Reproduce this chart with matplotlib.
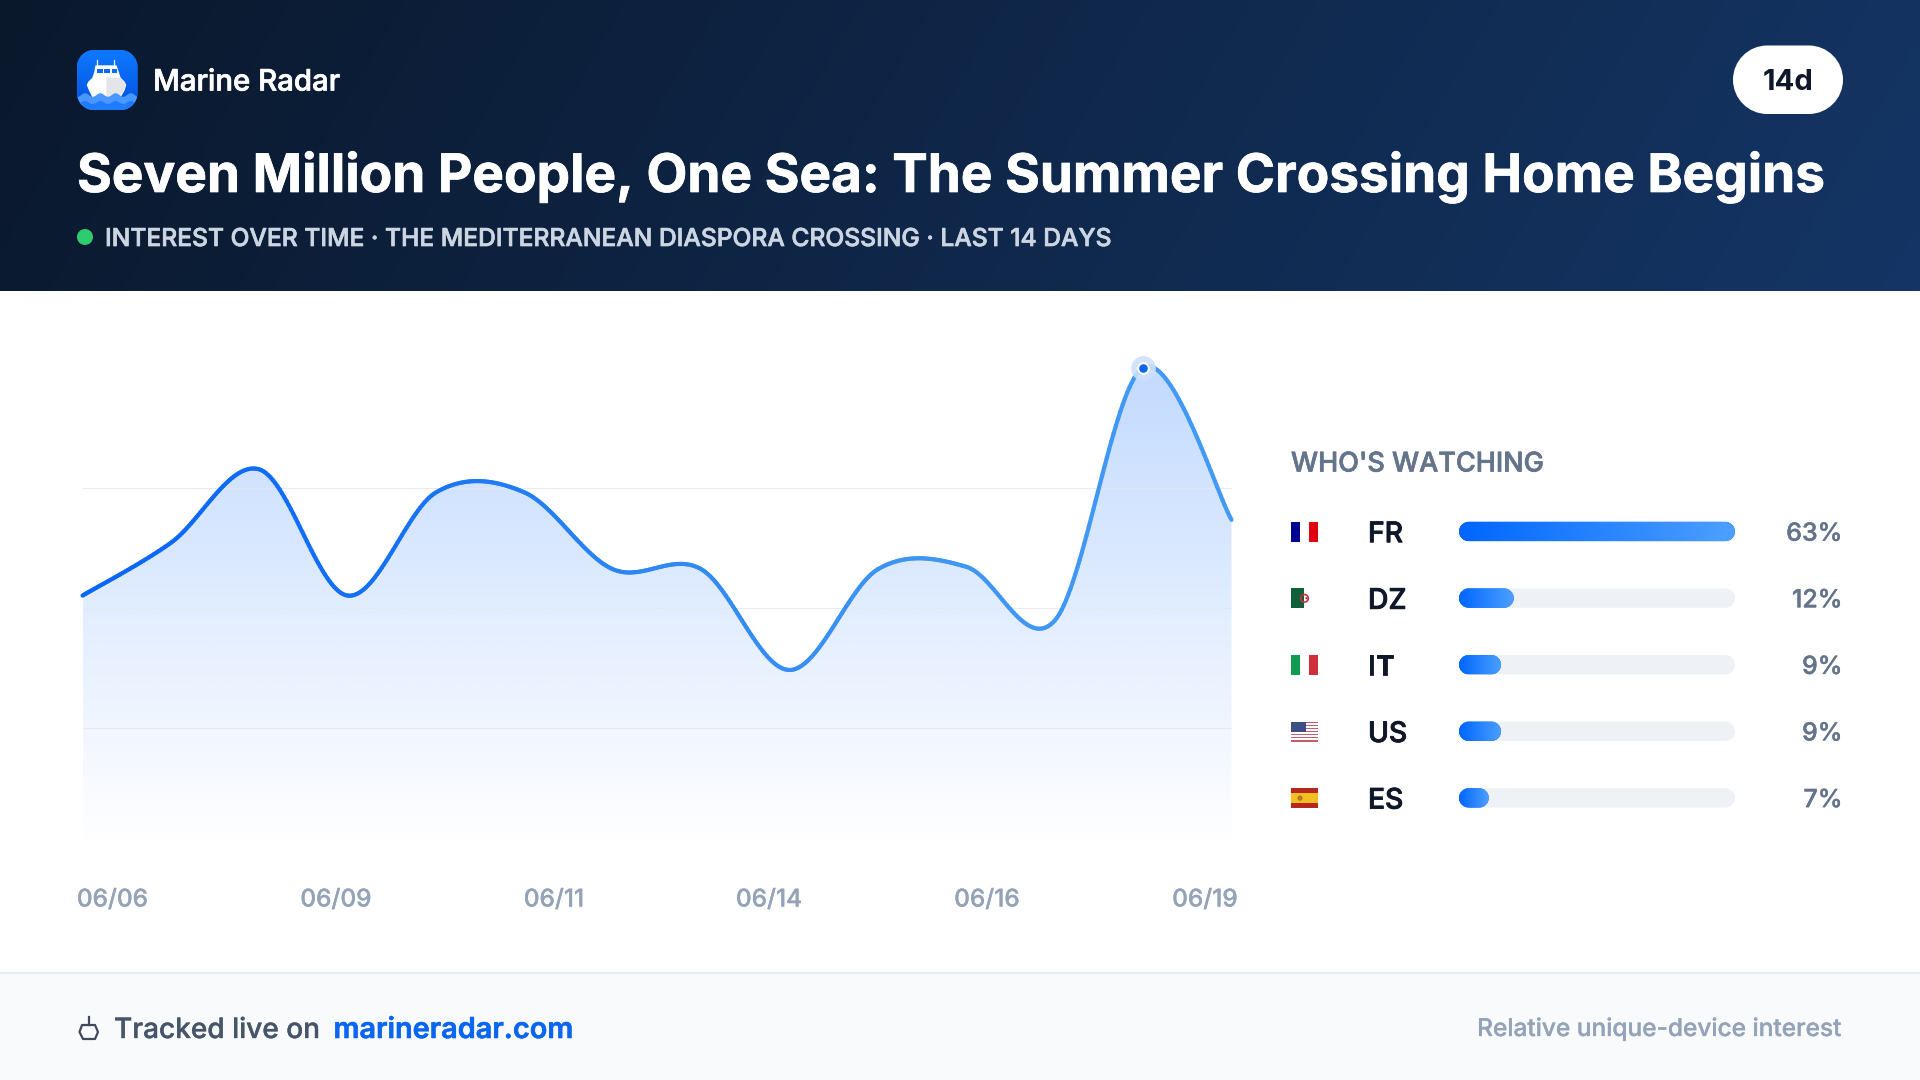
import numpy as np
import matplotlib
matplotlib.use('Agg')
import matplotlib.pyplot as plt
import matplotlib.patheffects as pe
from matplotlib.collections import LineCollection
from matplotlib.colors import LinearSegmentedColormap
from matplotlib.patches import Circle, PathPatch, Polygon, Rectangle
from matplotlib.path import Path

W, H = 1920, 1080
plt.rcParams['font.family'] = ['Inter', 'DejaVu Sans']

# chart data
values = [52.5, 63.5, 78.8, 52.5, 74, 74, 58, 58, 37, 58, 58.5, 47.3, 100, 68.3]
date_labels = ['06/06', '06/09', '06/11', '06/14', '06/16', '06/19']
date_centers = [112.5, 336, 554, 769, 987, 1205]
grid_values = [25, 50, 75]

# audience data (labels are rounded, bars are not quite)
countries = ['FR', 'DZ', 'IT', 'US', 'ES']
share_labels = [63, 12, 9, 9, 7]
shares = [63, 12.5, 9.6, 9.6, 6.8]

title = 'Seven Million People, One Sea: The Summer Crossing Home Begins'
subtitle = 'INTEREST OVER TIME · THE MEDITERRANEAN DIASPORA CROSSING · LAST 14 DAYS'

fig = plt.figure(figsize=(W / 100, H / 100), dpi=100, facecolor='white')
renderer = fig.canvas.get_renderer()


def px_axes(left, top, right, bottom):
    a = fig.add_axes([left / W, 1 - bottom / H, (right - left) / W, (bottom - top) / H])
    a.patch.set_alpha(0)
    a.axis('off')
    return a


def round_rect(x, y, w, h, rx, ry):
    # rounded box with proper circular corners (x, y is the low corner)
    k = 0.5523
    v = [(x + rx, y), (x + w - rx, y),
         (x + w - rx + k * rx, y), (x + w, y + ry - k * ry), (x + w, y + ry),
         (x + w, y + h - ry),
         (x + w, y + h - ry + k * ry), (x + w - rx + k * rx, y + h), (x + w - rx, y + h),
         (x + rx, y + h),
         (x + rx - k * rx, y + h), (x, y + h - ry + k * ry), (x, y + h - ry),
         (x, y + ry),
         (x, y + ry - k * ry), (x + rx - k * rx, y), (x + rx, y),
         (x + rx, y)]
    c = [Path.MOVETO, Path.LINETO] + [Path.CURVE4] * 3 + [Path.LINETO] + [Path.CURVE4] * 3 + [Path.LINETO] \
        + [Path.CURVE4] * 3 + [Path.LINETO] + [Path.CURVE4] * 3 + [Path.CLOSEPOLY]
    return Path(v, c)


# full figure layer, in pixels
bg = px_axes(0, 0, W, H)
bg.set_xlim(0, W)
bg.set_ylim(H, 0)


def put(s, x, y, width=None, size=20, fat=0.0, **kw):
    t = bg.text(x, y, s, fontsize=size, va='center_baseline', **kw)
    if width:
        size = size * width / t.get_window_extent(renderer).width
        t.set_fontsize(size)
    if fat:
        t.set_path_effects([pe.withStroke(linewidth=fat, foreground=kw.get('color', 'black'))])
    return size


# header gradient
gx, gy = np.meshgrid(np.linspace(0, 1, 400), np.linspace(0, 1, 60))
g = np.clip(gx * 0.92 + gy * 0.08, 0, 1)[..., None]
c0 = np.array([10, 24, 44]) / 255
c1 = np.array([20, 53, 101]) / 255
bg.imshow(c0 + (c1 - c0) * g, extent=(0, W, 291.5, 0), aspect='auto', zorder=1)

# footer
bg.add_patch(Rectangle((0, 973.5), W, 107, fc='#f8fafc', ec='none', zorder=1))
bg.add_patch(Rectangle((0, 972), W, 2, fc='#e9edf2', ec='none', zorder=1))

# logo
logo = PathPatch(round_rect(77, 50, 60.5, 60, 17, 17), fc='#0a6cff', ec='none', zorder=2)
bg.add_patch(logo)
lg = bg.imshow(np.linspace(0, 1, 50)[:, None], extent=(77, 137.5, 110, 50), aspect='auto', zorder=2,
               cmap=LinearSegmentedColormap.from_list('logo', ['#0f78ff', '#0052e0']))
lg.set_clip_path(logo)
bg.plot([97, 97], [60, 67], color='white', lw=0.9, zorder=3)
bg.plot([114, 114], [60, 67], color='white', lw=0.9, zorder=3)
bg.add_patch(Polygon([(96, 66), (116, 66), (118, 72), (120, 78), (124, 82), (125.5, 85), (124, 90), (120, 97),
                      (93, 97), (89.5, 90), (87.5, 85), (89, 82), (93, 78), (95, 72)],
                     closed=True, fc='white', ec='white', lw=1, joinstyle='round', zorder=3))
bg.add_patch(Polygon([(106.5, 77), (120, 78), (124, 82), (125.5, 85), (124, 90), (120, 97), (106.5, 97)],
                     closed=True, fc='#e3e5e9', ec='none', zorder=3))
bg.add_patch(Rectangle((97, 69), 5.5, 4, fc='#0a6cff', ec='none', zorder=4))
bg.add_patch(Rectangle((104, 69), 6, 4, fc='#0a6cff', ec='none', zorder=4))
bg.add_patch(Rectangle((111.5, 69), 5.5, 4, fc='#0a6cff', ec='none', zorder=4))
wave_x = np.linspace(77, 138, 80)
wave = bg.fill_between(wave_x, 94.5 + 1.8 * np.cos((wave_x - 77) / 61 * 2 * np.pi * 4), 110, color='#4a97ff', lw=0, zorder=4)
wave.set_clip_path(logo)
wave2 = bg.fill_between(wave_x, 102 + 1.5 * np.cos((wave_x - 77) / 61 * 2 * np.pi * 4), 110, color='#1f7bff', lw=0, zorder=5)
wave2.set_clip_path(logo)

put('Marine Radar', 153, 80, width=187, fat=0.5, color='white', weight='medium', zorder=5)
put(title, 77, 172, width=1751, fat=0.5, color='white', weight='bold', zorder=5)
bg.add_patch(Circle((85, 237), 8, fc='#2ecc71', ec='none', zorder=5))
put(subtitle, 105, 237, width=1007, fat=0.5, color='#ccd5e2', weight='medium', zorder=5)

# period pill
bg.add_patch(PathPatch(round_rect(1733, 45.5, 110, 68.5, 34.25, 34.25), fc='white', ec='none', zorder=5))
put('14d', 1788, 80, width=51, color='#0f172a', weight='bold', ha='center', zorder=6)

# date labels sit on their own spacing, not on the data positions
tick_size = put(date_labels[0], date_centers[0], 897.5, width=71, fat=0.2, color='#94a3b8', weight='medium', ha='center', zorder=5)
for lab, cx in zip(date_labels[1:], date_centers[1:]):
    put(lab, cx, 897.5, size=tick_size, fat=0.2, color='#94a3b8', weight='medium', ha='center', zorder=5)

# footer text
bg.add_patch(Polygon([(82, 1025), (95, 1025), (98, 1032), (95, 1039), (83, 1039), (79.5, 1032)], closed=True,
                     fc='none', ec='#3f4a5c', lw=1.6, joinstyle='round', zorder=5))
bg.plot([88.5, 88.5], [1017, 1025], color='#3f4a5c', lw=1.6, zorder=5)
put('Tracked live on', 114, 1027.5, width=206, fat=0.25, color='#475569', weight='medium', zorder=5)
put('marineradar.com', 333.5, 1027.5, width=240, fat=0.4, color='#0a66f0', weight='semibold', zorder=5)
put('Relative unique-device interest', 1841, 1026.5, width=364, fat=0.2, color='#94a3b8', weight='medium', ha='right', zorder=5)

# line chart
ax = px_axes(82.5, 367.6, 1231.5, 847.6)
ax.set_xlim(0, 13)
ax.set_ylim(0, 100)

pts = np.column_stack([np.arange(len(values)), values]).astype(float)
verts = [pts[0]]
codes = [Path.MOVETO]
smooth = []
ts = np.linspace(0, 1, 40)[:, None]
for i in range(len(pts) - 1):
    p0 = pts[max(i - 1, 0)]
    p1 = pts[i]
    p2 = pts[i + 1]
    p3 = pts[min(i + 2, len(pts) - 1)]
    c1_pt = p1 + (p2 - p0) / 6
    c2_pt = p2 - (p3 - p1) / 6
    verts += [c1_pt, c2_pt, p2]
    codes += [Path.CURVE4] * 3
    smooth.append((1 - ts) ** 3 * p1 + 3 * (1 - ts) ** 2 * ts * c1_pt + 3 * (1 - ts) * ts ** 2 * c2_pt + ts ** 3 * p2)
smooth = np.vstack(smooth)
area = Path(verts + [(13, 0), (0, 0), (0, values[0])], codes + [Path.LINETO, Path.LINETO, Path.LINETO])

shade = np.zeros((200, 2, 4))
shade[..., 1] = 0.4
shade[..., 2] = 1.0
shade[..., 3] = (0.24 * np.linspace(1, 0, 200))[:, None]
img = ax.imshow(shade, extent=(0, 13, 0, 100), aspect='auto', zorder=1, interpolation='bilinear')
img.set_clip_path(PathPatch(area, transform=ax.transData))
for v in grid_values:
    ax.axhline(v, color='#e3e8ef', lw=0.8, alpha=0.8, zorder=2)

# stroke goes blue to lighter blue from left to right, so cut the curve into short pieces
segs = np.stack([smooth[:-1], smooth[1:]], axis=1)
line_cmap = LinearSegmentedColormap.from_list('stroke', [(0, '#0866fa'), (0.25, '#1470f5'), (0.5, '#2f88f3'),
                                                         (0.75, '#3f96f3'), (1, '#429af5')])
lc = LineCollection(segs, array=segs[:, 0, 0], cmap=line_cmap, norm=plt.Normalize(0, 13), lw=3,
                    capstyle='round', zorder=3, clip_on=False)
ax.add_collection(lc)
ax.set_xlim(0, 13)
ax.set_ylim(0, 100)

peak = int(np.argmax(values))
ax.plot(peak, values[peak], 'o', ms=17.8, mfc='#cfe0fb', mec='none', alpha=0.9, zorder=4, clip_on=False)
ax.plot(peak, values[peak], 'o', ms=7.6, mfc='#0a66f0', mec='white', mew=1.4, zorder=5, clip_on=False)

# audience bars
put("WHO'S WATCHING", 1291, 461.5, width=253, fat=0.5, color='#64748b', weight='medium', zorder=5)

bx = px_axes(1459, 498.2, 1735, 831.2)
bx.set_xlim(0, max(shares))
bx.set_ylim(len(shares) - 0.5, -0.5)
bar_h = 0.29
rx = 9.7 * max(shares) / 276
ry = bar_h / 2
bar_cmap = LinearSegmentedColormap.from_list('bar', ['#0066ff', '#4da0ff'])
for i, v in enumerate(shares):
    bx.add_patch(PathPatch(round_rect(0, i - bar_h / 2, max(shares), bar_h, rx, ry), fc='#eef1f5', ec='none', zorder=1))
    fill = PathPatch(round_rect(0, i - bar_h / 2, v, bar_h, rx, ry), fc='#0066ff', ec='none', zorder=2)
    bx.add_patch(fill)
    im = bx.imshow(np.linspace(0, 1, 100)[None, :], extent=(0, v, i + bar_h / 2, i - bar_h / 2), aspect='auto',
                   cmap=bar_cmap, zorder=3)
    im.set_clip_path(fill)
bx.set_xlim(0, max(shares))
bx.set_ylim(len(shares) - 0.5, -0.5)

row_y = [531.7 + 66.6 * i for i in range(len(countries))]
code_size = None
pct_size = None
for code, share, y in zip(countries, share_labels, row_y):
    if code_size is None:
        code_size = put(code, 1368, y, width=35, fat=0.6, color='#0f172a', weight='medium', zorder=5)
        pct_size = put(f'{share}%', 1842.5, y, width=56, fat=0.3, color='#64748b', weight='medium', ha='right', zorder=5)
    else:
        put(code, 1368, y, size=code_size, fat=0.6, color='#0f172a', weight='medium', zorder=5)
        put(f'{share}%', 1842.5, y, size=pct_size, fat=0.3, color='#64748b', weight='medium', ha='right', zorder=5)


# flags
def rect(x0, y0, w, h, c):
    bg.add_patch(Rectangle((x0, y0), w, h, fc=c, ec='none', zorder=5))


fx = 1291
fw = 26.7
fh = 20
y0 = row_y[0] - fh / 2
rect(fx, y0, fw / 3, fh, '#000091')
rect(fx + 2 * fw / 3, y0, fw / 3, fh, '#e1000f')
y0 = row_y[1] - fh / 2
rect(fx, y0, fw / 2, fh, '#0f5f3a')
bg.add_patch(Circle((fx + 13.5, row_y[1]), 3.8, fc='none', ec='#c9303c', lw=1.2, zorder=5))
bg.add_patch(Circle((fx + 15.5, row_y[1]), 1, fc='#7a2030', ec='none', zorder=5))
y0 = row_y[2] - fh / 2
rect(fx, y0, fw / 3, fh, '#109a50')
rect(fx + 2 * fw / 3, y0, fw / 3, fh, '#ce2f3a')
y0 = row_y[3] - fh / 2
for s in range(7):
    rect(fx, y0 + s * 2 * fh / 13, fw, fh / 13, '#c0606e')
rect(fx, y0, fw * 0.56, fh * 7 / 13, '#3c4f84')
y0 = row_y[4] - fh / 2
rect(fx, y0, fw, fh, '#b5261e')
rect(fx, y0 + fh / 4, fw, fh / 2, '#f1bf22')
bg.add_patch(Circle((fx + 9, row_y[4]), 2.6, fc='#b8742c', ec='none', zorder=5))

fig.savefig('out.png', dpi=100)
